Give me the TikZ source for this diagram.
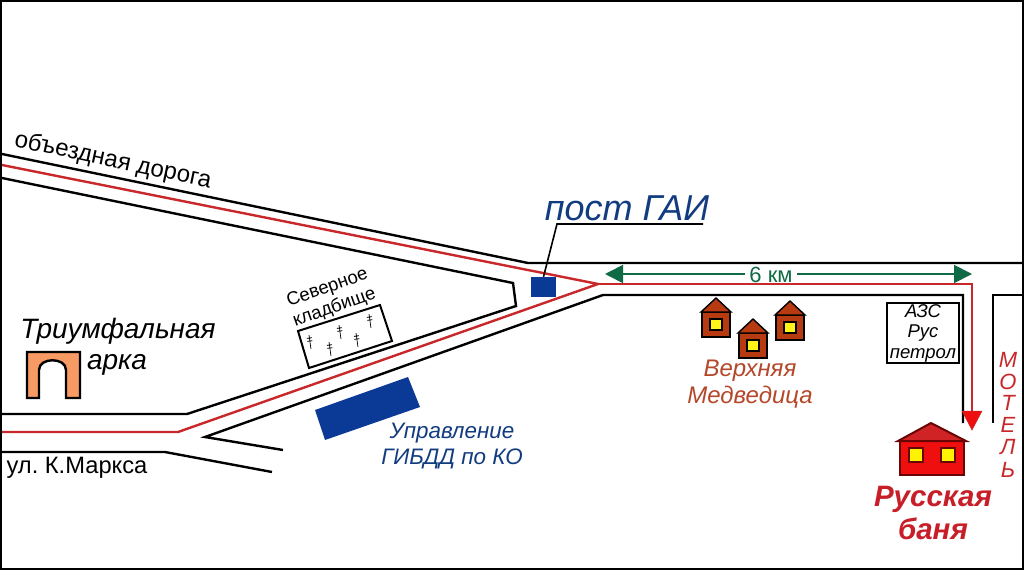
\documentclass[tikz,border=0pt]{standalone}
\usepackage{fontspec}
\setmainfont{Liberation Sans}
\usepackage{tikz}
\usetikzlibrary{
    arrows.meta,
    positioning,
    calc
}
\definecolor{roadred}{HTML}{C8282A}
\definecolor{distgreen}{HTML}{0F6B45}
\definecolor{gaiblue}{HTML}{0B3A96}
\definecolor{gaitext}{HTML}{123C80}
\definecolor{brick}{HTML}{B83A10}
\definecolor{villagetext}{HTML}{B5482A}
\definecolor{archfill}{HTML}{F79A63}
\definecolor{bathred}{HTML}{F00F0F}
\definecolor{bathline}{HTML}{6A0505}
\definecolor{bathtext}{HTML}{C81E28}

\begin{document}
\begin{tikzpicture}[
    x=1pt, y=-1pt,
    road/.style={line width=2.4pt, line join=miter},
    redroad/.style={line width=2.4pt, roadred, line join=miter},
    dist/.style={-{Triangle[length=18pt,width=18pt]}, line width=1.8pt, distgreen},
    lab/.style 2 args={font=\fontsize{#1}{#2}\selectfont, inner sep=0pt, align=center},
    itlab/.style 2 args={font=\fontsize{#1}{#2}\selectfont\itshape, inner sep=0pt, align=center},
    hut/.pic={
        \fill[brick, draw=black, line width=1.4pt, line join=miter] (1,14) rectangle (29,39);
        \fill[brick, draw=black, line width=1.4pt, line join=miter] (0,14) -- (15,0) -- (30,14) -- cycle;
        \fill[yellow!90!white, draw=black, line width=1.6pt] (9,21) rectangle (21,32);
    },
    grave/.pic={
        \draw[line width=0.7pt] (0,-7) -- (0,7);
        \draw[line width=0.8pt] (-2.5,-4) -- (2.5,-4) (-2.5,-1) -- (2.5,-1);
    }
]
\useasboundingbox (0,0) rectangle (1024,570);
\fill[white] (0,0) rectangle (1024,570);

% frame
\draw[line width=2.4pt] (1,1) rectangle (1023,569);

% roads
\draw[road] (2,154) -- (528,263) -- (1024,263);
\draw[road] (2,178) -- (513,283) -- (516,306) -- (187,414) -- (2,414);
\draw[road] (283,450) -- (205,437) -- (603,295) -- (963,295) -- (963,423);
\draw[road] (993,423) -- (993,295) -- (1024,295);
\draw[road] (2,452) -- (165,452) -- (272,472);

% route
\draw[redroad] (2,165) -- (598,284) -- (178,432) -- (2,432);
\draw[redroad] (598,284) -- (972,284) -- (972,412);
\fill[bathred, draw=roadred, line width=0.5pt] (962,411) -- (982,411) -- (972,430) -- cycle;

% post
\node[fill=gaiblue, draw=none, minimum width=25pt, minimum height=20pt, inner sep=0pt] (post) at (543.5,287) {};
\node[itlab={36}{40}, text=gaitext] (postlab) at (627,208) {пост ГАИ};
\coordinate (bend) at (557,224);
\coordinate (bendend) at (703,224);
\draw[line width=1.6pt] (post.north) -- (bend) -- (bendend);

% distance
\node[lab={22}{22}, text=distgreen] (km) at (771,275) {6 км};
\coordinate (distl) at (605,274);
\coordinate (distr) at (972,274);
\draw[dist] (km.west |- distl) ++(-4,0) -- (distl);
\draw[dist] (km.east |- distr) ++(4,0) -- (distr);

% left side
\node[lab={24}{24}, rotate=-12] (bypass) at (113,161) {объездная дорога};
\node[lab={23.7}{24}] (marx) at (77,468) {ул.\ К.Маркса};
\node[itlab={28}{30}] (arc1) at (118,331) {Триумфальная};
\node[itlab={28}{30}] (arc2) at (117,365) {арка};
\fill[archfill, draw=black, line width=2.4pt, line join=miter]
    (27,352) -- (80,352) -- (80,398) -- (66,398) -- (66,370)
    .. controls (66,357) and (39,357) .. (39,370)
    -- (39,398) -- (27,398) -- cycle;

% cemetery
\draw[line width=2pt] (298,331) -- (380,305) -- (392,341) -- (309,368) -- cycle;
\node[lab={18.5}{21}, rotate=19.5] (cem) at (331,298) {Северное\\кладбище};
\foreach \gx/\gy in {310/342, 330/349, 340/332, 357/340, 370/321}
    \pic[rotate=8] at (\gx,\gy) {grave};

% traffic police office
\fill[gaiblue] (315,410) -- (408,377) -- (420,407) -- (325,440) -- cycle;
\node[itlab={22.4}{26}, text=gaitext] (office) at (452,446) {Управление\\ГИБДД по КО};

% village
\foreach \hx/\hy in {701/298, 738/319, 775/301}
    \pic at (\hx,\hy) {hut};
\node[itlab={24}{26.5}, text=villagetext] (village) at (750,384) {Верхняя\\Медведица};

% petrol station
\node[draw, line width=2pt, minimum width=72pt, minimum height=60pt,
      itlab={18.5}{20.5}] (azs) at (923,333) {АЗС\\Рус\\петрол};

% motel
\foreach \ltr/\ly in {М/360, О/382, Т/403, Е/425, Л/447, Ь/470}
    \node[itlab={22}{22}, text=roadred] at (1008,\ly) {\ltr};

% bath house
\fill[bathred, draw=bathline, line width=2pt, line join=miter] (900,441) rectangle (964,475);
\fill[roadred!80!bathred, draw=bathline, line width=2pt, line join=miter] (898,441) -- (931,423) -- (966,441) -- cycle;
\foreach \wx in {909, 941}
    \fill[yellow, draw=bathline, line width=1.6pt] (\wx,448) rectangle ++(14,14);
\node[inner sep=0pt, align=center, text=bathtext, font=\fontsize{29.5}{33}\selectfont\bfseries\itshape] (bath) at (933,513) {Русская\\баня};

\end{tikzpicture}
\end{document}
